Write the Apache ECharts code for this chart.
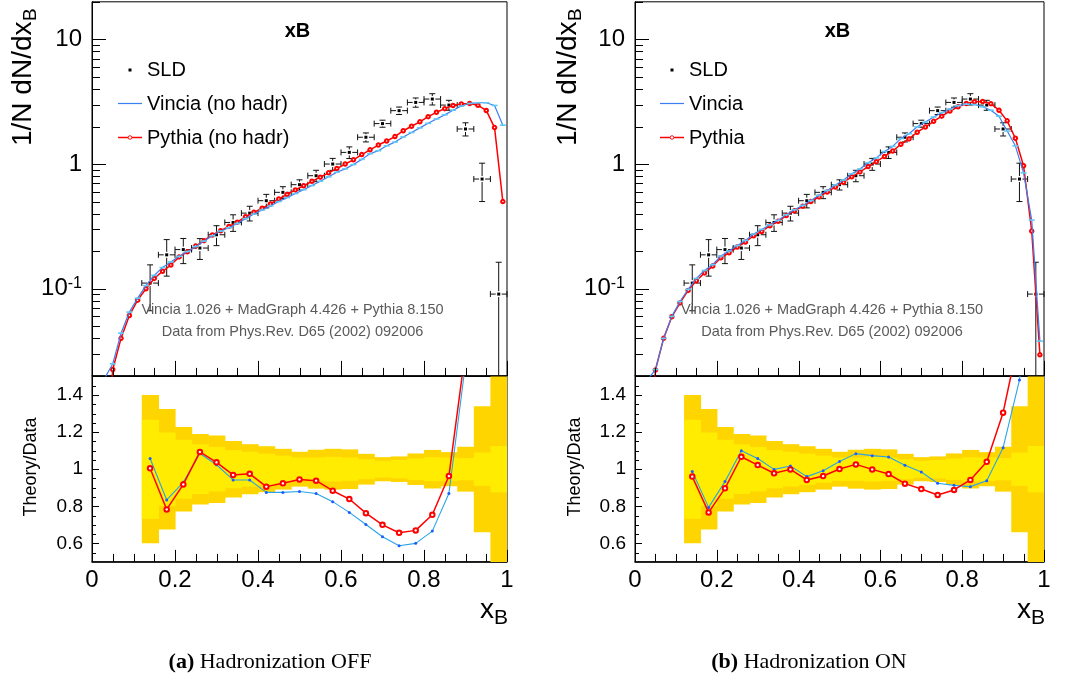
<!DOCTYPE html>
<html><head><meta charset="utf-8">
<script src="https://cdn.jsdelivr.net/npm/echarts@6/dist/echarts.min.js"></script>
<style>html,body{margin:0;padding:0;background:#fff}#c{width:1068px;height:678px}</style>
</head><body><div id="c"></div>
<script>
// ---------------- data ----------------
const theoryX = [0.03,0.05,0.07,0.09,0.11,0.13,0.15,0.17,0.19,0.21,0.23,0.25,0.27,0.29,0.31,0.33,0.35,0.37,0.39,0.41,0.43,0.45,0.47,0.49,0.51,0.53,0.55,0.57,0.59,0.61,0.63,0.65,0.67,0.69,0.71,0.73,0.75,0.77,0.79,0.81,0.83,0.85,0.87,0.89,0.91,0.93,0.95,0.97,0.99];
// Hadronization OFF
const pythiaOff = [0.003,0.0225,0.040,0.061,0.081,0.100,0.121,0.138,0.155,0.180,0.198,0.220,0.243,0.270,0.292,0.316,0.342,0.378,0.410,0.443,0.478,0.525,0.570,0.620,0.670,0.727,0.785,0.850,0.920,1.00,1.08,1.19,1.30,1.42,1.53,1.66,1.85,2.01,2.18,2.40,2.60,2.78,2.95,3.03,3.06,2.96,2.69,1.96,0.50];
const vinciaOff = [0.019,0.025,0.044,0.065,0.084,0.106,0.128,0.148,0.164,0.182,0.199,0.218,0.241,0.266,0.290,0.308,0.333,0.365,0.397,0.428,0.462,0.500,0.538,0.580,0.622,0.672,0.728,0.790,0.860,0.915,0.990,1.09,1.21,1.28,1.40,1.50,1.65,1.79,1.95,2.12,2.30,2.48,2.70,2.92,3.06,3.10,3.10,2.95,2.05];
// Hadronization ON
const pythiaOn = [0.003,0.0223,0.040,0.0596,0.077,0.097,0.116,0.134,0.152,0.177,0.194,0.216,0.237,0.266,0.288,0.320,0.347,0.386,0.422,0.458,0.500,0.545,0.597,0.655,0.715,0.790,0.865,0.955,1.045,1.15,1.27,1.44,1.59,1.80,1.98,2.20,2.42,2.66,2.88,3.06,3.16,3.17,3.05,2.70,2.22,1.61,0.97,0.29,0.0295];
const vinciaOn = [0.0185,0.0225,0.040,0.060,0.079,0.099,0.121,0.140,0.156,0.183,0.201,0.222,0.244,0.275,0.299,0.326,0.354,0.392,0.430,0.466,0.510,0.562,0.614,0.680,0.744,0.835,0.913,1.025,1.12,1.26,1.385,1.60,1.75,1.99,2.17,2.38,2.58,2.76,2.94,3.02,3.00,2.88,2.70,2.42,1.84,1.40,0.85,0.355,0.038];

// SLD data
const sldX = [0.14,0.18,0.22,0.26,0.30,0.34,0.38,0.42,0.46,0.50,0.54,0.58,0.62,0.66,0.70,0.74,0.78,0.82,0.86,0.90,0.94,0.98];
const sldY = [0.111,0.187,0.206,0.212,0.271,0.340,0.404,0.508,0.593,0.683,0.806,1.00,1.24,1.64,2.11,2.68,3.12,3.32,2.97,1.91,0.758,0.0906];
const sldStatRel = [0.267,0.198,0.159,0.134,0.120,0.103,0.094,0.084,0.073,0.063,0.063,0.067,0.063,0.054,0.045,0.050,0.058,0.065,0.063,0.060,0.090,0.125];
const sldTotRel  = [0.400,0.325,0.228,0.190,0.182,0.152,0.135,0.124,0.110,0.094,0.105,0.110,0.107,0.083,0.065,0.069,0.085,0.104,0.092,0.121,0.340,0.800];
const sldHalfWidth = 0.02;

// Theory/Data ratios
const ratioPythiaOff = [1.005,0.783,0.918,1.093,1.037,0.969,0.975,0.906,0.924,0.945,0.938,0.884,0.839,0.763,0.700,0.657,0.670,0.754,0.963,1.64,3.7,13.6];
const ratioVinciaOff = [1.058,0.834,0.929,1.085,1.024,0.942,0.942,0.875,0.875,0.880,0.869,0.825,0.767,0.702,0.636,0.587,0.600,0.666,0.869,1.57,4.1,27.6];
const ratioPythiaOn  = [0.960,0.767,0.897,1.067,1.022,0.978,0.999,0.942,0.963,1.001,1.026,0.999,0.974,0.922,0.893,0.861,0.888,0.942,1.040,1.305,1.72,1.76];
const ratioVinciaOn  = [0.988,0.794,0.933,1.100,1.058,0.999,1.017,0.960,0.992,1.042,1.084,1.073,1.066,1.021,0.985,0.924,0.913,0.906,0.938,1.116,1.481,2.17];

// tick values
const xTickVals  = [0,0.05,0.1,0.15,0.2,0.25,0.3,0.35,0.4,0.45,0.5,0.55,0.6,0.65,0.7,0.75,0.8,0.85,0.9,0.95,1];
const xTickMajor = [1,0,0,0,1,0,0,0,1,0,0,0,1,0,0,0,1,0,0,0,1];
const logTickVals  = [0.02,0.03,0.04,0.05,0.06,0.07,0.08,0.09,0.1,0.2,0.3,0.4,0.5,0.6,0.7,0.8,0.9,1,2,3,4,5,6,7,8,9,10,20];
const logTickMajor = [0,0,0,0,0,0,0,0,1,0,0,0,0,0,0,0,0,1,0,0,0,0,0,0,0,0,1,0];
const ratioTickVals  = [0.55,0.6,0.65,0.7,0.75,0.8,0.85,0.9,0.95,1,1.05,1.1,1.15,1.2,1.25,1.3,1.35,1.4,1.45];
const ratioTickMajor = [0,1,0,0,0,1,0,0,0,1,0,0,0,1,0,0,0,1,0];

// ---------------- style ----------------
const SANS = 'Liberation Sans, Arial, Helvetica, sans-serif';
const SERIF = 'Liberation Serif, Times New Roman, serif';
const RED = '#ff0000';
const BLUE = '#3a7ff2';
const BLUE_DASH = '#62c8f6';
const RBLUE = '#2aa4e6';
const RBLUE_DOT = '#1a5cff';
const GOLD = '#ffd500';
const YEL = '#ffec00';

const panels = [
  {left: 92, width: 415, legendX: 118, legendTextX: 147, vlabel: 'Vincia (no hadr)', plabel: 'Pythia (no hadr)',
   pyt: pythiaOff, vin: vinciaOff, rp: ratioPythiaOff, rv: ratioVinciaOff},
  {left: 635, width: 409, legendX: 660, legendTextX: 689, vlabel: 'Vincia', plabel: 'Pythia',
   pyt: pythiaOn, vin: vinciaOn, rp: ratioPythiaOn, rv: ratioVinciaOn}
];
const TOP_Y = 1.8, TOP_H = 374.1, RAT_Y = 376.5, RAT_H = 185.4;

const grids = [], xAxes = [], yAxes = [], series = [], graphics = [];

function ln(x1,y1,x2,y2,color,w){return {type:'line',shape:{x1,y1,x2,y2},style:{stroke:color||'#000',lineWidth:w||1}};}

function xTickSeries(xi, yi, yval, majLen, minLen){
  return {type:'custom', xAxisIndex:xi, yAxisIndex:yi, silent:true, z:20,
    data: xTickVals.map((v,i)=>[v, yval, xTickMajor[i]]),
    renderItem:(params, api)=>{
      const cs = params.coordSys;
      const px = Math.round(api.coord([api.value(0), api.value(1)])[0]) + 0.5;
      const yb = cs.y + cs.height;
      const L = api.value(2) ? majLen : minLen;
      return ln(px, yb, px, yb - L);
    }};
}
function yTickSeries(xi, yi, vals, majors, majLen, minLen){
  return {type:'custom', xAxisIndex:xi, yAxisIndex:yi, silent:true, z:20,
    data: vals.map((v,i)=>[0.5, v, majors[i]]),
    renderItem:(params, api)=>{
      const cs = params.coordSys;
      const py = Math.round(api.coord([api.value(0), api.value(1)])[1]) + 0.5;
      const L = api.value(2) ? majLen : minLen;
      return ln(cs.x, py, cs.x + L, py);
    }};
}
function bandSeries(xi, yi, rels, color, z){
  return {type:'custom', xAxisIndex:xi, yAxisIndex:yi, silent:true, z:z,
    data: sldX.map((x,i)=>[x, rels[i]]),
    renderItem:(params, api)=>{
      const cs = params.coordSys;
      const x = api.value(0), r = api.value(1);
      const a = api.coord([x - sldHalfWidth, 1 + r]);
      const b = api.coord([x + sldHalfWidth, 1 - r]);
      const shape = echarts.graphic.clipRectByRect(
        {x:a[0], y:a[1], width:b[0]-a[0]+0.6, height:b[1]-a[1]},
        {x:cs.x, y:cs.y, width:cs.width, height:cs.height});
      if(!shape) return null;
      return {type:'rect', shape, style:{fill:color}};
    }};
}
function errSeries(xi, yi){
  return {type:'custom', xAxisIndex:xi, yAxisIndex:yi, silent:true, z:5,
    data: sldX.map((x,i)=>[x, sldY[i], sldY[i]*(1-sldTotRel[i]), sldY[i]*(1+sldTotRel[i])]),
    renderItem:(params, api)=>{
      const cs = params.coordSys;
      const x = api.value(0), y = api.value(1), lo = api.value(2), hi = api.value(3);
      const c = api.coord([x, y]);
      const xl = api.coord([x - sldHalfWidth, y])[0], xr = api.coord([x + sldHalfWidth, y])[0];
      const yt = api.coord([x, hi])[1];
      let yb = api.coord([x, lo])[1];
      const bottom = cs.y + cs.height;
      let capB = true;
      if (yb > bottom) { yb = bottom; capB = false; }
      const g = 3, cap = 3, col = '#111';
      const ch = [];
      ch.push(ln(xl, c[1], c[0]-g, c[1], col));
      ch.push(ln(c[0]+g, c[1], xr, c[1], col));
      ch.push(ln(xl, c[1]-cap, xl, c[1]+cap, col));
      ch.push(ln(xr, c[1]-cap, xr, c[1]+cap, col));
      if (yt < c[1]-g) { ch.push(ln(c[0], yt, c[0], c[1]-g, col)); ch.push(ln(c[0]-cap, yt, c[0]+cap, yt, col)); }
      if (yb > c[1]+g) { ch.push(ln(c[0], c[1]+g, c[0], yb, col)); if (capB) ch.push(ln(c[0]-cap, yb, c[0]+cap, yb, col)); }
      ch.push({type:'rect', shape:{x:c[0]-1.5, y:c[1]-1.5, width:3, height:3}, style:{fill:'#000'}});
      return {type:'group', children: ch};
    }};
}

panels.forEach((p, k) => {
  const gt = k*2, gr = k*2+1;
  grids.push({left:p.left, top:TOP_Y, width:p.width, height:TOP_H, show:true, borderColor:'#000', borderWidth:1, backgroundColor:'transparent'});
  grids.push({left:p.left, top:RAT_Y, width:p.width, height:RAT_H, show:true, borderColor:'#000', borderWidth:1, backgroundColor:'transparent'});
  // x axes
  xAxes.push({type:'value', gridIndex:gt, min:0, max:1, interval:0.2,
    axisLine:{show:true, lineStyle:{color:'#000', width:1.5}}, axisTick:{show:false}, axisLabel:{show:false}, splitLine:{show:false}});
  xAxes.push({type:'value', gridIndex:gr, min:0, max:1, interval:0.2,
    axisLine:{show:true, lineStyle:{color:'#000', width:1.5}}, axisTick:{show:false}, splitLine:{show:false},
    axisLabel:{show:true, margin:6, fontSize:24, fontFamily:SANS, color:'#000',
      formatter:v=>String(Math.round(v*10)/10)}});
  // y axes
  yAxes.push({type:'log', logBase:10, gridIndex:gt, min:0.02, max:20,
    axisLine:{show:true, lineStyle:{color:'#000', width:1}}, axisTick:{show:false}, splitLine:{show:false},
    axisLabel:{show:true, margin:10, fontSize:24, fontFamily:SANS, color:'#000',
      formatter:v=>{const l=Math.log10(v), e=Math.round(l); if(Math.abs(l-e)>1e-6) return '';
        if(e===1) return '{b|10}'; if(e===0) return '{b|1}'; if(e===-1) return '{b|10}{s|-1}'; return '';},
      rich:{b:{fontSize:24, fontFamily:SANS, color:'#000', lineHeight:26},
            s:{fontSize:16, fontFamily:SANS, color:'#000', verticalAlign:'top', lineHeight:16}}}});
  yAxes.push({type:'value', gridIndex:gr, min:0.5, max:1.5, interval:0.1,
    axisLine:{show:true, lineStyle:{color:'#000', width:1}}, axisTick:{show:false}, splitLine:{show:false},
    axisLabel:{show:true, margin:9, fontSize:19, fontFamily:SANS, color:'#000',
      formatter:v=>{const q=Math.round(v*10); if(q%2!==0||q<6||q>14) return ''; return String(q/10);}}});

  // ratio bands
  series.push(bandSeries(gr, gr, sldTotRel, GOLD, 1));
  series.push(bandSeries(gr, gr, sldStatRel, YEL, 2));
  // ratio lines
  series.push({type:'line', xAxisIndex:gr, yAxisIndex:gr, z:6, silent:true, clip:true,
    data: sldX.map((x,i)=>[x, p.rv[i]]), symbol:'circle', symbolSize:3,
    lineStyle:{color:RBLUE, width:1.1}, itemStyle:{color:RBLUE_DOT}});
  series.push({type:'line', xAxisIndex:gr, yAxisIndex:gr, z:7, silent:true, clip:true,
    data: sldX.map((x,i)=>[x, p.rp[i]]), symbol:'emptyCircle', symbolSize:4.5,
    lineStyle:{color:RED, width:1.5}, itemStyle:{color:RED, borderColor:RED, borderWidth:1}});
  // top: data
  series.push(errSeries(gt, gt));
  // top: theory
  series.push({type:'line', xAxisIndex:gt, yAxisIndex:gt, z:6, silent:true, clip:true,
    data: theoryX.map((x,i)=>[x, p.pyt[i]]), symbol:'emptyCircle', symbolSize:3.5,
    lineStyle:{color:RED, width:1.5}, itemStyle:{color:RED, borderColor:RED, borderWidth:0.9}});
  series.push({type:'line', xAxisIndex:gt, yAxisIndex:gt, z:7, silent:true, clip:true,
    data: theoryX.map((x,i)=>[x, p.vin[i]]), symbol:'rect', symbolSize:[6,1.6],
    lineStyle:{color:BLUE, width:1.2}, itemStyle:{color:BLUE_DASH}});
  // ticks
  series.push(xTickSeries(gt, gt, 1, 15, 8));
  series.push(xTickSeries(gr, gr, 1, 12, 8));
  series.push(yTickSeries(gt, gt, logTickVals, logTickMajor, 14, 8));
  series.push(yTickSeries(gr, gr, ratioTickVals, ratioTickMajor, 7, 4));

  // legend (drawn)
  const lx = p.legendX, tx = p.legendTextX;
  graphics.push({type:'rect', shape:{x:lx+10.5, y:68.5, width:3, height:3}, style:{fill:'#000'}});
  graphics.push({type:'text', x:tx, y:70.5, style:{text:'SLD', font:'20px '+SANS, fill:'#000', align:'left', verticalAlign:'middle'}});
  graphics.push({type:'line', shape:{x1:lx, y1:103.5, x2:lx+24, y2:103.5}, style:{stroke:BLUE, lineWidth:1.2}});
  graphics.push({type:'text', x:tx, y:104, style:{text:p.vlabel, font:'20px '+SANS, fill:'#000', align:'left', verticalAlign:'middle'}});
  graphics.push({type:'line', shape:{x1:lx, y1:137.5, x2:lx+24, y2:137.5}, style:{stroke:RED, lineWidth:1.5}});
  graphics.push({type:'circle', shape:{cx:lx+12, cy:137.5, r:1.8}, style:{fill:'#fff', stroke:RED, lineWidth:0.9}});
  graphics.push({type:'text', x:tx, y:138, style:{text:p.plabel, font:'20px '+SANS, fill:'#000', align:'left', verticalAlign:'middle'}});
});

// titles and annotations
const txt = (x,y,text,font,fill)=>({type:'text', x, y, z:100, style:{text, font, fill:fill||'#000', align:'center', verticalAlign:'middle'}});
graphics.push(txt(297.5, 31, 'xB', 'bold 20px '+SANS));
graphics.push(txt(837.5, 31, 'xB', 'bold 20px '+SANS));
[292.5, 832].forEach(cx=>{
  graphics.push(txt(cx, 309.5, 'Vincia 1.026 + MadGraph 4.426 + Pythia 8.150', '14.5px '+SANS, '#5a5a5a'));
  graphics.push(txt(cx, 331.5, 'Data from Phys.Rev. D65 (2002) 092006', '14.5px '+SANS, '#5a5a5a'));
});
// y titles
[[23,146],[568,146]].forEach(([ax,ay])=>{
  graphics.push({type:'text', x:ax, y:ay, rotation:Math.PI/2, style:{text:'1/N dN/dx', font:'28px '+SANS, fill:'#000', align:'left', verticalAlign:'middle'}});
  graphics.push({type:'text', x:ax+8, y:ay-125, rotation:Math.PI/2, style:{text:'B', font:'19px '+SANS, fill:'#000', align:'left', verticalAlign:'middle'}});
});
[[31,467],[575,467]].forEach(([ax,ay])=>{
  graphics.push({type:'text', x:ax, y:ay, rotation:Math.PI/2, style:{text:'Theory/Data', font:'18px '+SANS, fill:'#000', align:'center', verticalAlign:'middle'}});
});
// x titles
[494, 1031].forEach(ax=>{
  graphics.push({type:'text', x:ax, y:610, style:{text:'x', font:'28px '+SANS, fill:'#000', align:'right', verticalAlign:'middle'}});
  graphics.push({type:'text', x:ax, y:618, style:{text:'B', font:'21px '+SANS, fill:'#000', align:'left', verticalAlign:'middle'}});
});
// captions
graphics.push({type:'text', x:270, y:662, style:{text:'{b|(a)} Hadronization OFF', font:'22px '+SERIF, fill:'#000', align:'center', verticalAlign:'middle',
  rich:{b:{font:'bold 22px '+SERIF, fill:'#000'}}}});
graphics.push({type:'text', x:809, y:662, style:{text:'{b|(b)} Hadronization ON', font:'22px '+SERIF, fill:'#000', align:'center', verticalAlign:'middle',
  rich:{b:{font:'bold 22px '+SERIF, fill:'#000'}}}});

const chart = echarts.init(document.getElementById('c'), null, {renderer:'canvas'});
chart.setOption({
  animation:false,
  backgroundColor:'#fff',
  grid:grids, xAxis:xAxes, yAxis:yAxes, series:series,
  graphic:{elements:graphics}
});
</script>
</body></html>
